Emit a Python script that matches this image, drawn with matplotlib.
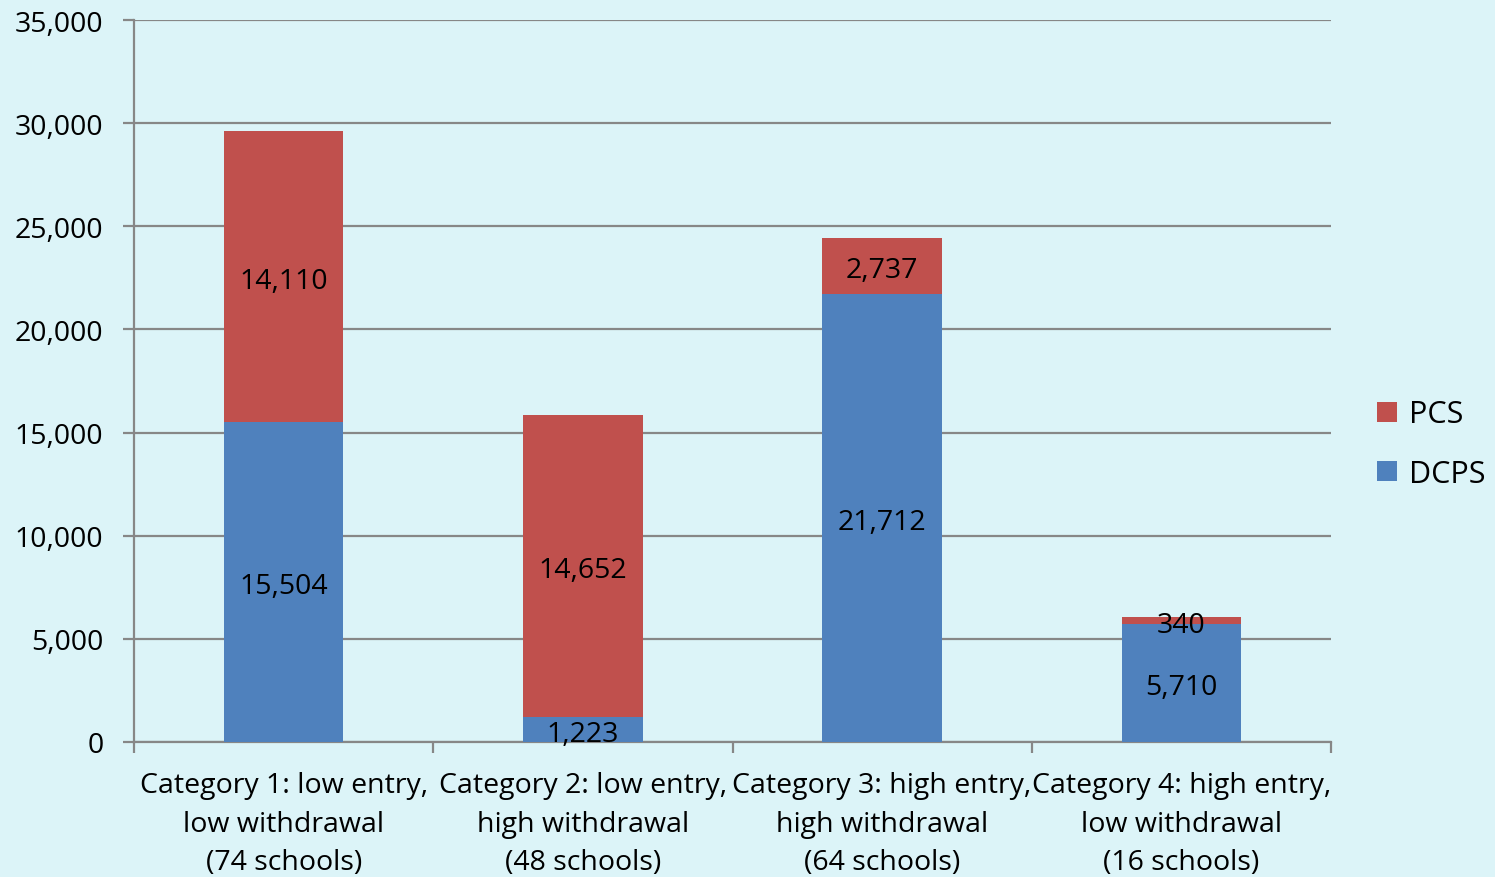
import matplotlib.pyplot as plt
import numpy as np

# 数据
categories = ['Category 1: low entry,\nlow withdrawal\n(74 schools)',
              'Category 2: low entry,\nhigh withdrawal\n(48 schools)',
              'Category 3: high entry,\nhigh withdrawal\n(64 schools)',
              'Category 4: high entry,\nlow withdrawal\n(16 schools)']
dcps = [15504, 1223, 21712, 5710]
pcs = [14110, 14652, 2737, 340]

bg = '#DCF4F8'
grid_col = '#878787'
blue = '#4F81BD'
red = '#C0504D'
fs = 20.5

plt.rcParams['font.family'] = ['Open Sans', 'DejaVu Sans']

fig = plt.figure(figsize=(14.95, 8.78), dpi=100, facecolor=bg)
ax = fig.add_axes([134 / 1495, 1 - 743 / 878, (1331 - 134) / 1495, (743 - 21) / 878])
ax.set_facecolor(bg)

x = np.arange(len(categories))
w = 0.4
b1 = ax.bar(x, dcps, w, color=blue, label='DCPS', zorder=3)
b2 = ax.bar(x, pcs, w, bottom=dcps, color=red, label='PCS', zorder=3)

# 数据标签放在每段中间
for i in range(len(x)):
    ax.annotate(f'{dcps[i]:,}', (x[i], dcps[i] / 2), xytext=(0, -3), textcoords='offset points',
                ha='center', va='center', fontsize=fs, zorder=4)
    ax.annotate(f'{pcs[i]:,}', (x[i], dcps[i] + pcs[i] / 2), xytext=(0, -3), textcoords='offset points',
                ha='center', va='center', fontsize=fs, zorder=4)

ax.set_xlim(-0.5, 3.5)
ax.set_ylim(0, 35000)
ax.set_yticks(range(0, 35001, 5000))
ax.set_yticklabels([f'{v:,}' for v in range(0, 35001, 5000)], fontsize=fs)
ax.yaxis.grid(True, color=grid_col, linewidth=1.6, zorder=0)

ax.set_xticks(x)
ax.set_xticklabels(categories, fontsize=fs, linespacing=1.5)
ax.set_xticks(np.arange(-0.5, 4, 1), minor=True)
ax.tick_params(axis='x', which='major', length=0, pad=21)
ax.tick_params(axis='x', which='minor', length=8, width=1.6, color=grid_col)
ax.tick_params(axis='y', length=8, width=1.6, color=grid_col, pad=14)

for s in ['top', 'right']:
    ax.spines[s].set_visible(False)
for s in ['left', 'bottom']:
    ax.spines[s].set_color(grid_col)
    ax.spines[s].set_linewidth(1.6)

handles = [b2, b1]
leg = fig.legend(handles, ['PCS', 'DCPS'], loc='center left', bbox_to_anchor=(1377 / 1495, 1 - 445 / 878),
                 frameon=False, fontsize=22, handlelength=0.65, handleheight=0.65,
                 handletextpad=0.4, labelspacing=0.95, borderpad=0, borderaxespad=0)

plt.savefig('out.png', dpi=100, facecolor=bg)
